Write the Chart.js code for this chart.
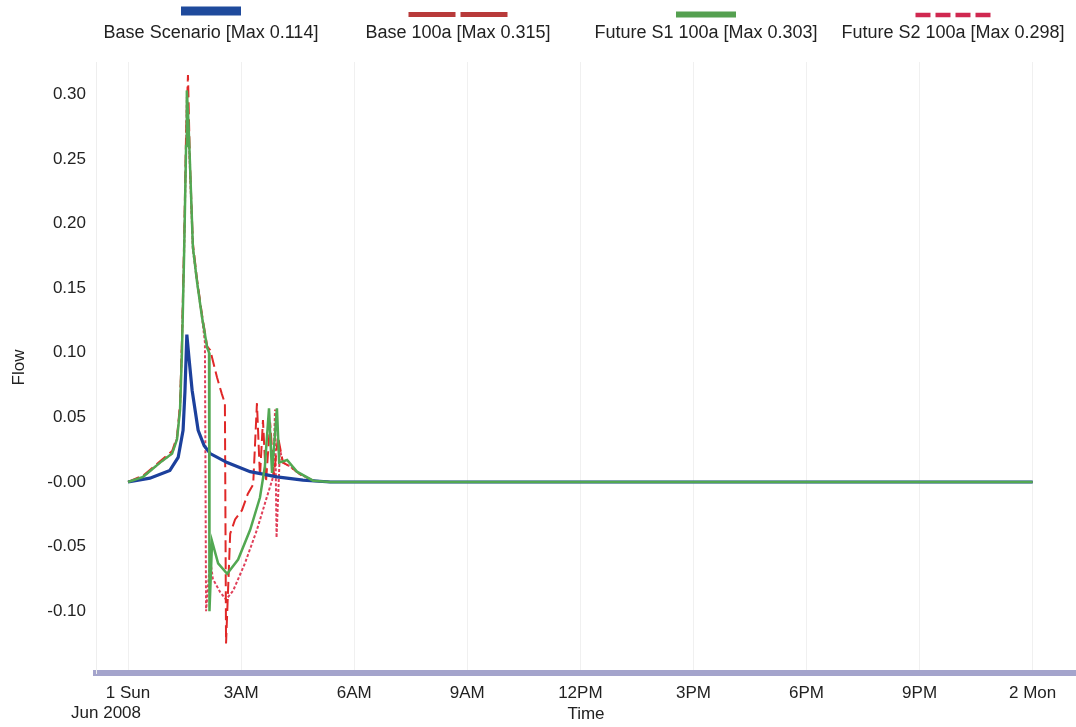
<!DOCTYPE html>
<html>
<head>
<meta charset="utf-8">
<script src="https://cdn.jsdelivr.net/npm/chart.js@4.4.1/dist/chart.umd.min.js"></script>
<style>
  html, body { margin: 0; padding: 0; background: #fff; }
  #wrap { width: 1076px; height: 727px; }
</style>
</head>
<body>
<div id="wrap"><canvas id="flowChart" width="1076" height="727"></canvas></div>
<script>
// hours after 1 Sun Jun 2008 00:00
const tickHours = [0, 3, 6, 9, 12, 15, 18, 21, 24];
const tickLabels = ['1 Sun', '3AM', '6AM', '9AM', '12PM', '3PM', '6PM', '9PM', '2 Mon'];
const flowTicks = [-0.10, -0.05, 0, 0.05, 0.10, 0.15, 0.20, 0.25, 0.30];

const seriesNames = [
    'Base Scenario [Max 0.114]',
    'Base 100a [Max 0.315]',
    'Future S1 100a [Max 0.303]',
    'Future S2 100a [Max 0.298]'
];

const baseTime = [0, 0.58, 1.11, 1.33, 1.46, 1.51, 1.56, 1.62, 1.70, 1.86, 2.02, 2.18, 2.63, 3.24, 3.95, 4.64, 5.36, 12, 24];
const baseFlow = [0, 0.003, 0.009, 0.019, 0.040, 0.070, 0.114, 0.095, 0.071, 0.040, 0.028, 0.022, 0.015, 0.008, 0.004, 0.0015, 0, 0, 0];

const base100Time = [0, 0.40, 0.85, 1.17, 1.30, 1.38, 1.43, 1.49, 1.54, 1.59, 1.64, 1.72, 1.83, 1.96, 2.10, 2.18, 2.36, 2.49, 2.57, 2.60,
    2.71, 2.84, 3.02, 3.18, 3.32, 3.42, 3.50, 3.58, 3.66, 3.77, 3.87, 3.98, 4.11, 4.30, 4.56, 4.91, 5.36, 12, 24];
const base100Flow = [0, 0.005, 0.016, 0.024, 0.035, 0.060, 0.110, 0.190, 0.270, 0.315, 0.250, 0.185, 0.157, 0.130, 0.105, 0.102, 0.081, 0.068, 0.061, -0.125,
    -0.040, -0.029, -0.022, -0.009, -0.002, 0.061, 0.004, 0.048, 0.000, 0.046, 0.005, 0.035, 0.015, 0.012, 0.006, 0.001, 0, 0, 0];

const s1Time = [0, 0.40, 0.85, 1.17, 1.30, 1.38, 1.43, 1.49, 1.54, 1.56, 1.60, 1.64, 1.72, 1.83, 1.96, 2.10, 2.15, 2.16, 2.23, 2.39,
    2.63, 2.92, 3.24, 3.50, 3.63, 3.74, 3.82, 3.95, 4.01, 4.22, 4.48, 4.91, 5.36, 12, 24];
const s1Flow = [0, 0.004, 0.015, 0.022, 0.033, 0.056, 0.100, 0.180, 0.260, 0.303, 0.280, 0.249, 0.182, 0.155, 0.128, 0.104, 0.100, -0.100, -0.046, -0.063,
    -0.071, -0.060, -0.037, -0.012, 0.012, 0.057, 0.007, 0.057, 0.015, 0.017, 0.008, 0.001, 0, 0, 0];

const s2Time = [0, 0.40, 0.85, 1.17, 1.30, 1.38, 1.43, 1.49, 1.54, 1.56, 1.62, 1.72, 1.83, 1.96, 2.04, 2.07, 2.18, 2.25, 2.44, 2.60,
    2.79, 3.10, 3.42, 3.69, 3.85, 3.90, 3.94, 4.03, 4.11, 4.30, 4.56, 4.91, 5.36, 12, 24];
const s2Flow = [0, 0.004, 0.015, 0.022, 0.034, 0.058, 0.105, 0.180, 0.260, 0.298, 0.260, 0.180, 0.155, 0.128, 0.108, -0.100, -0.060, -0.075, -0.085, -0.091,
    -0.084, -0.063, -0.037, -0.011, 0.004, 0.056, -0.043, 0.025, 0.015, 0.012, 0.006, 0.001, 0, 0, 0];

const FONT = '"Liberation Sans", Arial, sans-serif';

function toPoints(times, flows) {
    return times.map((t, i) => ({ x: t, y: flows[i] }));
}

// legend swatches sit above the text, like the original software
const swatches = [
    { color: '#1f4a9c', width: 9, length: 60, dash: [], y: 11 },
    { color: '#b83a3a', width: 5, length: 99, dash: [47, 5], y: 14.5 },
    { color: '#55a050', width: 6, length: 60, dash: [], y: 14.5 },
    { color: '#d02850', width: 4.5, length: 75, dash: [15, 5], y: 15 }
];
const legendCenters = [211, 458, 706, 953];

const topLegend = {
    id: 'topLegend',
    afterDraw(chart) {
        const ctx = chart.ctx;
        ctx.save();
        chart.data.datasets.forEach((ds, i) => {
            const sw = swatches[i];
            const cx = legendCenters[i];
            ctx.strokeStyle = sw.color;
            ctx.lineWidth = sw.width;
            ctx.setLineDash(sw.dash);
            ctx.beginPath();
            ctx.moveTo(cx - sw.length / 2, sw.y);
            ctx.lineTo(cx + sw.length / 2, sw.y);
            ctx.stroke();
            ctx.setLineDash([]);
            ctx.fillStyle = '#222';
            ctx.font = '18px ' + FONT;
            ctx.textAlign = 'center';
            ctx.textBaseline = 'middle';
            ctx.fillText(ds.label, cx, 33);
        });
        const xs = chart.scales.x;
        ctx.font = '17px ' + FONT;
        ctx.fillStyle = '#222';
        ctx.textAlign = 'center';
        ctx.textBaseline = 'middle';
        ctx.fillText('Jun 2008', xs.getPixelForValue(0) - 22, 713);
        ctx.restore();
    }
};

const ctx = document.getElementById('flowChart').getContext('2d');

new Chart(ctx, {
    type: 'line',
    data: {
        datasets: [
            {
                label: seriesNames[0],
                data: toPoints(baseTime, baseFlow),
                borderColor: '#1c409c',
                borderWidth: 3.2,
                order: 1
            },
            {
                label: seriesNames[1],
                data: toPoints(base100Time, base100Flow),
                borderColor: '#e02828',
                borderWidth: 2,
                borderDash: [12, 5],
                order: 2
            },
            {
                label: seriesNames[2],
                data: toPoints(s1Time, s1Flow),
                borderColor: '#52a852',
                borderWidth: 2.5,
                order: 0
            },
            {
                label: seriesNames[3],
                data: toPoints(s2Time, s2Flow),
                borderColor: '#e0405a',
                borderWidth: 2,
                borderDash: [3, 2],
                order: 3
            }
        ]
    },
    options: {
        responsive: false,
        animation: false,
        elements: {
            point: { radius: 0 },
            line: { tension: 0, fill: false }
        },
        layout: {
            padding: { top: 62, left: 0, right: 0, bottom: 0 }
        },
        plugins: {
            legend: { display: false },
            tooltip: { enabled: false }
        },
        scales: {
            x: {
                type: 'linear',
                min: -0.85,
                max: 25.15,
                afterFit: (scale) => { scale.height = 54; },
                afterBuildTicks: (scale) => {
                    scale.ticks = tickHours.map(v => ({ value: v }));
                },
                border: { color: '#a4a4cc', width: 6 },
                grid: { color: '#f0f0f0', drawTicks: false },
                ticks: {
                    autoSkip: false,
                    maxRotation: 0,
                    padding: 10,
                    color: '#222',
                    font: { family: FONT, size: 17 },
                    callback: (v) => tickLabels[tickHours.indexOf(v)]
                },
                title: {
                    display: true,
                    text: 'Time',
                    color: '#222',
                    font: { family: FONT, size: 17 },
                    padding: { top: 0, bottom: 2 }
                }
            },
            y: {
                min: -0.1478,
                max: 0.325,
                afterFit: (scale) => { scale.width = 96; },
                afterBuildTicks: (scale) => {
                    scale.ticks = flowTicks.map(v => ({ value: v }));
                },
                border: { color: '#eeeeee', width: 1 },
                grid: { display: false, drawTicks: false },
                ticks: {
                    padding: 10,
                    color: '#222',
                    font: { family: FONT, size: 17 },
                    callback: (v) => Math.abs(v) < 1e-9 ? '-0.00' : v.toFixed(2)
                },
                title: {
                    display: true,
                    text: 'Flow',
                    color: '#222',
                    font: { family: FONT, size: 17 },
                    padding: { top: 9 }
                }
            }
        }
    },
    plugins: [topLegend]
});
</script>
</body>
</html>
